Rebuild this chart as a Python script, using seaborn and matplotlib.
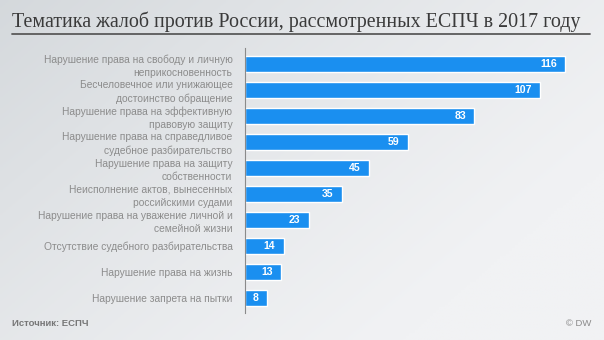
import numpy as np
import pandas as pd
import matplotlib
matplotlib.use("Agg")
import matplotlib.pyplot as plt
import seaborn as sns

categories = [
    "Нарушение права на свободу и личную\nнеприкосновенность",
    "Бесчеловечное или унижающее\nдостоинство обращение",
    "Нарушение права на эффективную\nправовую защиту",
    "Нарушение права на справедливое\nсудебное разбирательство",
    "Нарушение права на защиту\nсобственности",
    "Неисполнение актов, вынесенных\nроссийскими судами",
    "Нарушение права на уважение личной и\nсемейной жизни",
    "Отсутствие судебного разбирательства",
    "Нарушение права на жизнь",
    "Нарушение запрета на пытки",
]
values = [116, 107, 83, 59, 45, 35, 23, 14, 13, 8]

title = "Тематика жалоб против России, рассмотренных ЕСПЧ в 2017 году"
source = "Источник: ЕСПЧ"
credit = "© DW"

df = pd.DataFrame({"cat": categories, "val": values})

sns.set_theme(style="white")
plt.rcParams["font.family"] = ["Liberation Sans", "DejaVu Sans"]

W, H = 604, 340
fig = plt.figure(figsize=(W / 100, H / 100), dpi=100)

# background gradient
bg = fig.add_axes([0, 0, 1, 1], zorder=-10)
xx = np.linspace(0, 1, 200)
yy = np.linspace(0, 1, 120)
X, Y = np.meshgrid(xx, yy)
t = np.clip(0.6 * (1 - X) + 0.4 * (1 - Y) - 0.2, 0, 1) ** 1.2
c0 = np.array([0xf1, 0xf2, 0xf4]) / 255
c1 = np.array([0xcc, 0xd1, 0xd5]) / 255
img = c0[None, None, :] * (1 - t[..., None]) + c1[None, None, :] * t[..., None]
bg.imshow(img, aspect="auto", extent=[0, 1, 0, 1], origin="upper")
bg.set_axis_off()

ax_left = 245 / W
ax_top = 48
ax_bot = 313
ax = fig.add_axes([ax_left, 1 - ax_bot / H, 1 - ax_left, (ax_bot - ax_top) / H])
ax.patch.set_alpha(0)

sns.barplot(data=df, y="cat", x="val", orient="h", color="#1a8ff0",
            saturation=1, width=0.62, ax=ax)
ax.set_xlim(0, 130)
ax.set_ylim(len(values) - 0.42, -0.6)
ax.set_xlabel("")
ax.set_ylabel("")
ax.set_xticks([])
for s in ["top", "right", "bottom"]:
    ax.spines[s].set_visible(False)
ax.spines["left"].set_color("#8a8a8a")
ax.spines["left"].set_linewidth(0.8)
ax.tick_params(axis="y", length=0, pad=9, labelsize=7.4, labelcolor="#8c8c8c")
for lab in ax.get_yticklabels():
    lab.set_linespacing(1.4)

for i, v in enumerate(values):
    ax.annotate(str(v), (v, i), xytext=(-6, 0), textcoords="offset points",
                ha="right", va="center", color="white", fontsize=7.6,
                fontweight="bold")

fig.text(12 / W, 1 - 22 / H, title, family=["Liberation Serif"], fontsize=14.4,
         color="#3a3a3a", ha="left", va="center")
fig.add_artist(plt.Line2D([12 / W, 590 / W], [1 - 34 / H, 1 - 34 / H],
                          color="#5a5a5a", lw=1.3, transform=fig.transFigure))
fig.text(12 / W, 1 - 324 / H, source, fontsize=6.8, fontweight="bold",
         color="#777777", ha="left", va="center")
fig.text(591 / W, 1 - 324 / H, credit, fontsize=6.8,
         color="#8a8a8a", ha="right", va="center")

fig.savefig("out.png", dpi=100)
